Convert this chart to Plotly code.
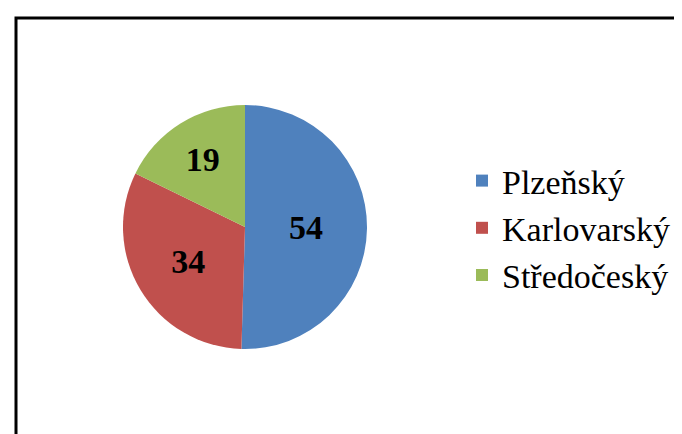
import plotly.graph_objects as go

regions = ["Plzeňský", "Karlovarský", "Středočeský"]
counts = [54, 34, 19]
colors = ["#4F81BD", "#C0504D", "#9BBB59"]

W, H = 682, 434

fig = go.Figure(go.Pie(
    labels=regions,
    values=counts,
    sort=False,
    direction="clockwise",
    rotation=0,
    marker=dict(colors=colors, line=dict(width=0)),
    textinfo="value",
    textposition="inside",
    insidetextorientation="horizontal",
    textfont=dict(family="Liberation Serif", size=34, color="black", weight="bold"),
    domain=dict(x=[(237 - 122) / W, (237 + 122) / W], y=[(215 - 122) / H, (215 + 122) / H]),
    hoverinfo="label+value",
))

fig.update_layout(
    width=W, height=H,
    margin=dict(l=0, r=0, t=0, b=0),
    paper_bgcolor="white",
    showlegend=True,
    uniformtext=dict(minsize=30, mode="show"),
    legend=dict(
        x=454 / W, y=1 - 144 / H, xanchor="left", yanchor="top",
        font=dict(family="Liberation Serif", size=34, color="black"),
        bgcolor="rgba(0,0,0,0)",
    ),
    shapes=[dict(
        type="rect", xref="paper", yref="paper",
        x0=8 / W, y0=1 - 10 / H, x1=1.05, y1=-0.05,
        line=dict(color="black", width=3), fillcolor="rgba(0,0,0,0)",
    )],
)

fig.write_html("out.html")
